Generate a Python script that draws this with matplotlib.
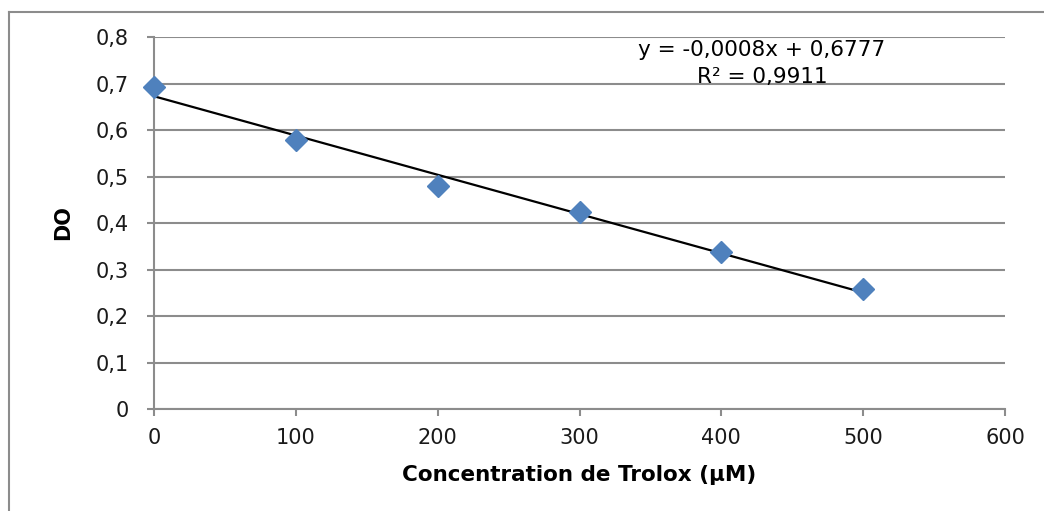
import matplotlib
matplotlib.use('Agg')
import matplotlib.pyplot as plt
import numpy as np
from matplotlib.lines import Line2D

# data
concentration = [0, 100, 200, 300, 400, 500]
absorbance = [0.693, 0.578, 0.480, 0.423, 0.337, 0.258]
equation_text = 'y = -0,0008x + 0,6777'
r2_text = 'R² = 0,9911'
xticks = [0, 100, 200, 300, 400, 500, 600]
yticks = [0, 0.1, 0.2, 0.3, 0.4, 0.5, 0.6, 0.7, 0.8]

plt.rcParams['font.family'] = ['DejaVu Sans']
grey = '#8c8c8c'

fig = plt.figure(figsize=(10.44, 5.11), dpi=100)
ax = fig.add_axes([154 / 1044, 1 - 409 / 511, 851 / 1044, 372 / 511])

# outer chart frame (left and top edges visible)
fig.add_artist(Line2D([9 / 1044, 9 / 1044], [0, 1 - 12 / 511],
                      transform=fig.transFigure, color=grey, lw=1.5))
fig.add_artist(Line2D([9 / 1044, 1], [1 - 12 / 511, 1 - 12 / 511],
                      transform=fig.transFigure, color=grey, lw=1.5))

# linear trendline
slope, intercept = np.polyfit(concentration, absorbance, 1)
xs = np.array([concentration[0], concentration[-1]])
ax.plot(xs, slope * xs + intercept, color='black', lw=1.6, zorder=3)
ax.plot(concentration, absorbance, linestyle='none', marker='D',
        markersize=11, color='#4f81bd', zorder=4, clip_on=False)

ax.set_xlim(0, 600)
ax.set_ylim(0, 0.8)
ax.set_xticks(xticks)
ax.set_yticks(yticks)
ax.set_xticklabels([str(v) for v in xticks])
ax.set_yticklabels(['0' if v == 0 else f'{v:.1f}'.replace('.', ',') for v in yticks])
ax.grid(axis='y', color=grey, lw=1.5)
ax.set_axisbelow(True)
for s in ['top', 'right']:
    ax.spines[s].set_visible(False)
for s in ['left', 'bottom']:
    ax.spines[s].set_color(grey)
    ax.spines[s].set_linewidth(1.5)
ax.tick_params(colors=grey, labelcolor='#1a1a1a', labelsize=15, length=5, width=1.5)
ax.tick_params(axis='y', pad=13)
ax.tick_params(axis='x', pad=9)

ax.set_xlabel('Concentration de Trolox (µM)', fontsize=15.5, fontweight='bold', labelpad=12)
ax.set_ylabel('DO', fontsize=15, fontweight='bold', labelpad=16)

fig.text(762 / 1044, 1 - 50 / 511, equation_text, ha='center', va='center', fontsize=15.5)
fig.text(762 / 1044, 1 - 77 / 511, r2_text, ha='center', va='center', fontsize=15.5)

fig.savefig('out.png', dpi=100)
